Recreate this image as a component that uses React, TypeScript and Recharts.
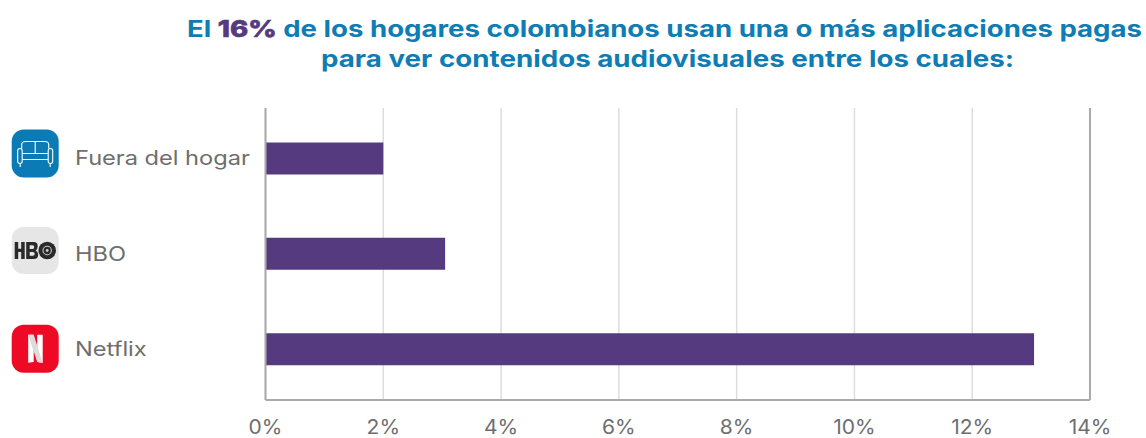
import { BarChart, Bar, XAxis, YAxis, CartesianGrid, ReferenceLine } from "recharts";

const categories = ["Fuera del hogar", "HBO", "Netflix"];
const shares = [2, 3.05, 13.05];
const xTicks = [0, 2, 4, 6, 8, 10, 12, 14];

const chartData = categories.map((name, i) => ({ name, share: shares[i] }));

const BLUE = "#0f7db4";
const PURPLE = "#553a80";
const GREY_TEXT = "#6e6e6e";
const FONT = "Inter, 'Open Sans', sans-serif";

// los iconos no quedan centrados en su banda: desplazamiento vertical de cada uno
const iconOffsets = [-28.7, -26.5, -24];

// iconos de cada plataforma, dibujados en una caja de 47x47
function SofaIcon() {
  return (
    <g>
      <rect width={47} height={48} rx={12} fill="#0b7bb5" />
      <g fill="none" stroke="#ffffff" strokeWidth={1.1} strokeLinejoin="round">
        <path d="M10 19 V15 Q10 12 14 12 H33 Q37 12 37 15 V19" />
        <path d="M23.5 12 V24" />
        <path d="M10.5 24 H36.5 M10.5 30 H36.5" />
        <rect x={6} y={19} width={4.5} height={15} rx={2.2} />
        <rect x={36.5} y={19} width={4.5} height={15} rx={2.2} />
        <path d="M8.5 34 V37.5 M38.5 34 V37.5" />
      </g>
    </g>
  );
}

function HboIcon() {
  return (
    <g>
      <rect width={47} height={47} rx={12} fill="#e6e6e6" />
      <g fill="#2a2a2a">
        <path d="M3 15 H6.5 V21.8 H9.5 V15 H13 V32 H9.5 V25 H6.5 V32 H3 Z" />
        <path
          fillRule="evenodd"
          d="M14.5 15 H22 Q26 15 26 19.2 Q26 22 24 23.4 Q26.5 24.8 26.5 27.8 Q26.5 32 22 32 H14.5 Z M18 18.2 V22 H21 Q22.5 22 22.5 20.1 Q22.5 18.2 21 18.2 Z M18 25 V28.8 H21.2 Q23 28.8 23 26.9 Q23 25 21.2 25 Z"
        />
        <circle cx={35.5} cy={23.5} r={8.8} />
      </g>
      <circle cx={35.5} cy={23.5} r={4.2} fill="none" stroke="#c9c9c9" strokeWidth={1.1} />
      <circle cx={35.5} cy={23.5} r={1.4} fill="#c9c9c9" />
    </g>
  );
}

function NetflixIcon() {
  return (
    <g>
      <rect width={47} height={48} rx={12} fill="#ee0a24" />
      <path d="M16.5 10 H22 V37.2 L16.5 38 Z M25.5 10 H31 V38 L25.5 37.2 Z" fill="#ffffff" />
      <path d="M16.5 10 H22 L31 38 L25.5 37.2 Z" fill="#dcdcdc" />
    </g>
  );
}

const icons: Record<string, () => React.ReactElement> = {
  "Fuera del hogar": SofaIcon,
  HBO: HboIcon,
  Netflix: NetflixIcon,
};

function CategoryTick({ y, index, payload }: { y?: number; index?: number; payload?: { value: string } }) {
  const name = payload?.value ?? "";
  const Icon = icons[name];
  const cy = y ?? 0;
  return (
    <g>
      <g transform={`translate(11.7, ${cy + iconOffsets[index ?? 0]})`}>{Icon ? <Icon /> : null}</g>
      <text transform={`translate(75, ${cy + 7}) scale(1.18, 1)`} fontFamily={FONT} fontSize={20} fill={GREY_TEXT}>
        {name}
      </text>
    </g>
  );
}

function PercentTick({ x, y, payload }: { x?: number; y?: number; payload?: { value: number } }) {
  return (
    <text
      transform={`translate(${x}, ${(y ?? 0) + 26}) scale(1.05, 1)`}
      textAnchor="middle"
      fontFamily={FONT}
      fontSize={20}
      fill={GREY_TEXT}
    >
      {`${payload?.value}%`}
    </text>
  );
}

function Title() {
  const common = { fontFamily: FONT, fontWeight: 700, fontSize: 23, fill: BLUE, lengthAdjust: "spacingAndGlyphs" };
  return (
    <svg width={1146} height={90} style={{ position: "absolute", left: 0, top: 0 }}>
      <text x={187} y={37} textLength={955} {...common}>
        El{" "}
        <tspan fill={PURPLE} fontWeight={800} stroke={PURPLE} strokeWidth={0.6}>
          16%
        </tspan>{" "}
        de los hogares colombianos usan una o más aplicaciones pagas
      </text>
      <text x={321} y={67} textLength={693} {...common}>
        para ver contenidos audiovisuales entre los cuales:
      </text>
    </svg>
  );
}

export default function App() {
  return (
    <div style={{ position: "absolute", left: 0, top: 0, width: 1146, height: 438, background: "#ffffff", overflow: "hidden" }}>
      <BarChart
        width={1146}
        height={438}
        layout="vertical"
        data={chartData}
        margin={{ top: 108, right: 56, bottom: 0, left: 0 }}
        barCategoryGap={0}
      >
        <CartesianGrid horizontal={false} stroke="#dddddd" strokeWidth={1.5} />
        <XAxis
          type="number"
          domain={[0, 14]}
          ticks={xTicks}
          height={38}
          axisLine={{ stroke: "#aaaaaa", strokeWidth: 2 }}
          tickLine={false}
          tick={<PercentTick />}
          interval={0}
        />
        <YAxis
          type="category"
          dataKey="name"
          width={265.5}
          padding={{ top: 2.5, bottom: 3.5 }}
          axisLine={{ stroke: "#aaaaaa", strokeWidth: 2 }}
          tickLine={false}
          tick={<CategoryTick />}
          interval={0}
        />
        <ReferenceLine x={14} stroke="#aaaaaa" strokeWidth={2} />
        <Bar dataKey="share" fill={PURPLE} barSize={32} isAnimationActive={false} />
      </BarChart>
      <Title />
    </div>
  );
}
